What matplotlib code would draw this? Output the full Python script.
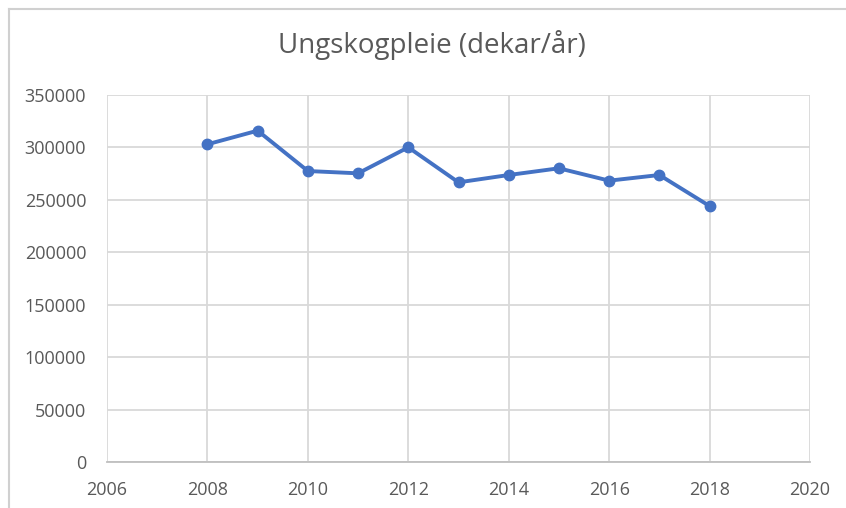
import matplotlib.pyplot as plt
from matplotlib.lines import Line2D

years = [2008, 2009, 2010, 2011, 2012, 2013, 2014, 2015, 2016, 2017, 2018]
dekar = [303000, 316000, 277500, 275300, 300100, 266700, 273700, 280100, 268300, 273700, 244100]

plt.rcParams['font.family'] = ['Open Sans', 'DejaVu Sans']

fig = plt.figure(figsize=(8.46, 5.08), dpi=100)
ax = fig.add_axes([107/846, 46/508, (810-107)/846, (462-95)/508])

ax.plot(years, dekar, color='#4472C4', lw=2.8, marker='o', markersize=7.5,
        solid_joinstyle='round', zorder=3)

ax.set_xlim(2006, 2020)
ax.set_ylim(0, 350000)
ax.set_xticks(range(2006, 2021, 2))
ax.set_yticks(range(0, 350001, 50000))
ax.grid(True, color='#d9d9d9', lw=1.3)
ax.set_axisbelow(True)
for s in ['top', 'right', 'left']:
    ax.spines[s].set_visible(False)
ax.spines['bottom'].set_color('#bfbfbf')
ax.spines['bottom'].set_linewidth(1.3)
ax.tick_params(length=0, labelsize=13, colors='#595959')
ax.tick_params(axis='y', pad=15)
ax.tick_params(axis='x', pad=14)

fig.text(432/846, 1 - 45/508, 'Ungskogpleie (dekar/år)', ha='center', va='center',
         fontsize=20, color='#595959')

# chart frame (top and left edges visible)
fig.add_artist(Line2D([9/846, 1], [1 - 9/508, 1 - 9/508], color='#d0d0d0', lw=1.5,
                      transform=fig.transFigure))
fig.add_artist(Line2D([9/846, 9/846], [0, 1 - 9/508], color='#d0d0d0', lw=1.5,
                      transform=fig.transFigure))

fig.savefig('out.png', dpi=100)
